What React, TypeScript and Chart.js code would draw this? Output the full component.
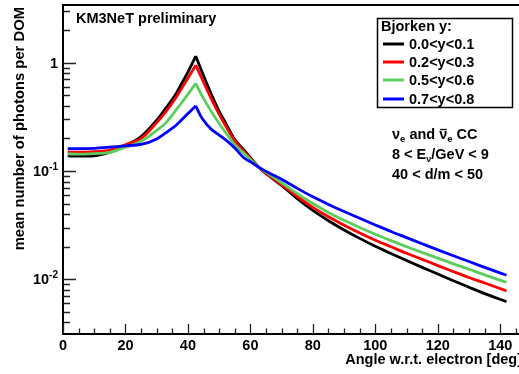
import React, { useEffect, useRef } from "react";
import { Chart, registerables } from "chart.js";
Chart.register(...registerables);

const angles = [1.5, 5, 10, 15, 20, 25, 30, 33, 36, 38, 40, 41.5, 42.5, 44, 46, 48, 50, 52, 55, 58, 60, 63, 66, 70, 75, 80, 85, 90, 95, 100, 105, 110, 115, 120, 125, 130, 135, 142];
const yBin1 = [0.138, 0.137, 0.138, 0.149, 0.172, 0.208, 0.295, 0.383, 0.505, 0.643, 0.82, 1.0, 1.15, 0.895, 0.647, 0.473, 0.356, 0.28, 0.195, 0.156, 0.133, 0.106, 0.09, 0.0735, 0.0557, 0.0433, 0.0348, 0.0286, 0.0239, 0.0202, 0.0173, 0.0149, 0.0129, 0.0112, 0.0097, 0.00845, 0.00738, 0.00622];
const yBin2 = [0.15, 0.149, 0.151, 0.156, 0.175, 0.2, 0.28, 0.356, 0.47, 0.582, 0.72, 0.85, 0.95, 0.763, 0.573, 0.432, 0.333, 0.263, 0.189, 0.151, 0.13, 0.106, 0.0908, 0.075, 0.0582, 0.0462, 0.0378, 0.0316, 0.0268, 0.023, 0.02, 0.0174, 0.0153, 0.0134, 0.0118, 0.0104, 0.00925, 0.00783];
const yBin3 = [0.144, 0.143, 0.145, 0.149, 0.166, 0.188, 0.237, 0.28, 0.36, 0.427, 0.512, 0.587, 0.645, 0.528, 0.417, 0.336, 0.275, 0.228, 0.175, 0.145, 0.128, 0.107, 0.0933, 0.078, 0.0619, 0.0501, 0.0415, 0.0351, 0.0301, 0.0261, 0.0228, 0.02, 0.0177, 0.0157, 0.0139, 0.0124, 0.011, 0.0094];
const yBin4 = [0.161, 0.161, 0.162, 0.166, 0.171, 0.176, 0.198, 0.226, 0.262, 0.297, 0.339, 0.374, 0.4, 0.325, 0.27, 0.236, 0.215, 0.195, 0.163, 0.132, 0.122, 0.107, 0.096, 0.0841, 0.0692, 0.0578, 0.0492, 0.0423, 0.0366, 0.0318, 0.0277, 0.0243, 0.0213, 0.0187, 0.0165, 0.0146, 0.0129, 0.0109];

const seriesLabels = ["0.0<y<0.1", "0.2<y<0.3", "0.5<y<0.6", "0.7<y<0.8"];
const seriesColors = ["#000000", "#ff0000", "#5ccc5c", "#0000ff"];
const seriesValues = [yBin1, yBin2, yBin3, yBin4];

const xMajorTicks = [0, 20, 40, 60, 80, 100, 120, 140];
const xMinorStep = 5;
const yMajorTicks = [1, 0.1, 0.01];
const yMajorLabels = [["1", ""], ["10", "-1"], ["10", "-2"]];

const X_MIN = 0;
const X_MAX = 146;
const Y_MIN = 0.00313;
const Y_MAX = 3.41;

const FONT = "'Liberation Sans', Arial, Helvetica, sans-serif";
const f = (s: number) => `bold ${s}px ${FONT}`;

type Seg = { t: string; size: number; dy?: number; bar?: boolean };
function drawRich(ctx: CanvasRenderingContext2D, x: number, y: number, segs: Seg[]) {
  let cx = x;
  for (const s of segs) {
    ctx.font = f(s.size);
    ctx.fillText(s.t, cx, y + (s.dy || 0));
    const w = ctx.measureText(s.t).width;
    if (s.bar) {
      ctx.save();
      ctx.lineWidth = 1.3;
      ctx.strokeStyle = "#000";
      ctx.beginPath();
      ctx.moveTo(cx + 1, y - 9.5);
      ctx.lineTo(cx + w - 0.5, y - 9.5);
      ctx.stroke();
      ctx.restore();
    }
    cx += w;
  }
}

const decorPlugin = {
  id: "rootDecor",
  afterDatasetsDraw(chart: any) {
    const ctx: CanvasRenderingContext2D = chart.ctx;
    const { left, right, top, bottom } = chart.chartArea;
    const xs = chart.scales.x;
    const ys = chart.scales.y;
    ctx.save();
    ctx.fillStyle = "#000";
    ctx.strokeStyle = "#000";

    ctx.lineWidth = 2;
    ctx.beginPath();
    ctx.moveTo(left, top);
    ctx.lineTo(right + 2, top);
    ctx.moveTo(left, top - 1);
    ctx.lineTo(left, bottom);
    ctx.lineTo(right + 2, bottom);
    ctx.stroke();

    ctx.lineWidth = 1.3;
    ctx.strokeStyle = "#222";
    ctx.beginPath();
    for (let v = X_MIN; v <= X_MAX; v += xMinorStep) {
      const px = Math.round(xs.getPixelForValue(v)) + 0.5;
      const len = xMajorTicks.includes(v) ? 10 : 5.5;
      ctx.moveTo(px, bottom);
      ctx.lineTo(px, bottom - len);
    }
    for (let e = -3; e <= 0; e++) {
      for (let k = 1; k <= 9; k++) {
        const v = k * Math.pow(10, e);
        if (v < Y_MIN || v > Y_MAX) continue;
        const py = Math.round(ys.getPixelForValue(v)) + 0.5;
        const len = k === 1 ? 13 : 7;
        ctx.moveTo(left, py);
        ctx.lineTo(left + len, py);
      }
    }
    ctx.stroke();

    ctx.font = f(14.5);
    ctx.textAlign = "center";
    ctx.textBaseline = "middle";
    for (const v of xMajorTicks) {
      ctx.fillText(String(v), xs.getPixelForValue(v), bottom + 12);
    }
    ctx.textAlign = "left";
    yMajorTicks.forEach((v, i) => {
      const py = ys.getPixelForValue(v);
      const [base, sup] = yMajorLabels[i];
      ctx.font = f(14.5);
      const wb = ctx.measureText(base).width;
      ctx.font = f(10);
      const ws = sup ? ctx.measureText(sup).width : 0;
      const x0 = left - 5 - wb - ws;
      ctx.font = f(14.5);
      ctx.fillText(base, x0, py + 1);
      if (sup) {
        ctx.font = f(10);
        ctx.fillText(sup, x0 + wb, py - 4);
      }
    });

    ctx.font = f(14.5);
    ctx.textAlign = "right";
    ctx.fillText("Angle w.r.t. electron [deg]", 522, 360);
    ctx.save();
    ctx.translate(20, 7);
    ctx.rotate(-Math.PI / 2);
    ctx.textAlign = "left";
    ctx.textBaseline = "middle";
    ctx.font = f(14.8);
    const yt = "mean number of photons per DOM";
    ctx.fillText(yt, -ctx.measureText(yt).width, 0);
    ctx.restore();

    ctx.textAlign = "left";
    ctx.textBaseline = "middle";
    ctx.font = f(14.5);
    ctx.fillText("KM3NeT preliminary", 76, 19);

    ctx.fillStyle = "#fff";
    ctx.fillRect(377, 18, 136, 90);
    ctx.lineWidth = 1.5;
    ctx.strokeStyle = "#000";
    ctx.strokeRect(377.5, 18.5, 135, 89);
    ctx.fillStyle = "#000";
    ctx.font = f(14.5);
    ctx.fillText("Bjorken y:", 381, 27);
    const rows = [44, 62, 80, 99];
    seriesLabels.forEach((lab, i) => {
      ctx.strokeStyle = seriesColors[i];
      ctx.lineWidth = 3;
      ctx.beginPath();
      ctx.moveTo(383, rows[i]);
      ctx.lineTo(404, rows[i]);
      ctx.stroke();
      ctx.fillText(lab, 409, rows[i] + 1);
    });

    ctx.textBaseline = "alphabetic";
    drawRich(ctx, 392, 139, [
      { t: "ν", size: 14.5 },
      { t: "e", size: 9.5, dy: 3 },
      { t: " and ", size: 14.5 },
      { t: "ν", size: 14.5, bar: true },
      { t: "e", size: 9.5, dy: 3 },
      { t: " CC", size: 14.5 },
    ]);
    drawRich(ctx, 392, 159, [
      { t: "8 < E", size: 14.5 },
      { t: "ν", size: 9, dy: 3 },
      { t: "/GeV < 9", size: 14.5 },
    ]);
    drawRich(ctx, 392, 179, [{ t: "40 < d/m < 50", size: 14.5 }]);

    ctx.restore();
  },
};

function buildDatasets() {
  const out: any[] = [];
  seriesValues.forEach((vals, i) => {
    let peak = 0;
    vals.forEach((v, j) => { if (v > vals[peak]) peak = j; });
    const pts = angles.map((a, j) => ({ x: a, y: vals[j] }));
    const parts = [pts.slice(0, peak + 1), pts.slice(peak)];
    parts.forEach((data) => {
      out.push({
        label: seriesLabels[i],
        data,
        borderColor: seriesColors[i],
        backgroundColor: seriesColors[i],
        borderWidth: 2.8,
        pointRadius: 0,
        cubicInterpolationMode: "monotone",
        fill: false,
        order: 4 - i,
      });
    });
  });
  return out;
}

export default function App() {
  const ref = useRef<HTMLCanvasElement | null>(null);
  useEffect(() => {
    document.body.style.margin = "0";
    const canvas = ref.current!;
    const chart = new Chart(canvas, {
      type: "line",
      data: { datasets: buildDatasets() },
      options: {
        responsive: false,
        animation: false,
        devicePixelRatio: 1,
        layout: { padding: { top: 5, right: 0, bottom: 0, left: 0 } },
        plugins: { legend: { display: false }, tooltip: { enabled: false } },
        scales: {
          x: {
            type: "linear",
            min: X_MIN,
            max: X_MAX,
            grid: { display: false },
            border: { display: false },
            ticks: { display: false },
            afterFit: (s: any) => { s.height = 40; },
          },
          y: {
            type: "logarithmic",
            min: Y_MIN,
            max: Y_MAX,
            grid: { display: false },
            border: { display: false },
            ticks: { display: false },
            afterFit: (s: any) => { s.width = 63; },
          },
        },
      },
      plugins: [decorPlugin],
    } as any);
    return () => chart.destroy();
  }, []);
  return (
    <div style={{ position: "fixed", left: 0, top: 0, width: 519, height: 374, background: "#fff" }}>
      <canvas ref={ref} width={519} height={374} style={{ width: 519, height: 374, display: "block" }} />
    </div>
  );
}
